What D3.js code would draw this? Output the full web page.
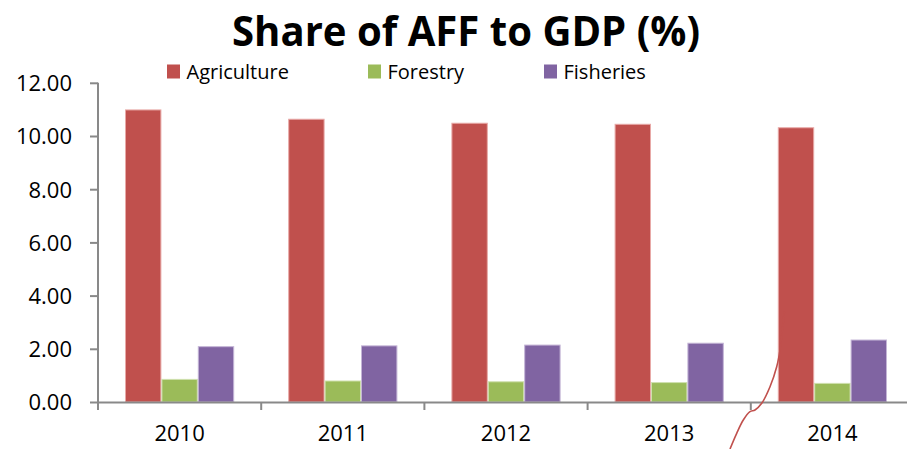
<!DOCTYPE html>
<html>
<head>
<meta charset="utf-8">
<script src="https://cdn.jsdelivr.net/npm/d3@7/dist/d3.min.js"></script>
<style>
  html, body { margin: 0; padding: 0; background: #fff; }
  svg { display: block; }
  text { font-family: "Open Sans", "DejaVu Sans", sans-serif; fill: #000; }
</style>
</head>
<body>
<svg id="chart" width="907" height="449"></svg>
<script>
const years = ["2010", "2011", "2012", "2013", "2014"];
const seriesNames = ["Agriculture", "Forestry", "Fisheries"];
const agriculture = [10.98, 10.63, 10.48, 10.44, 10.31];
const forestry = [0.85, 0.79, 0.76, 0.73, 0.70];
const fisheries = [2.08, 2.11, 2.14, 2.21, 2.33];
const yTicks = [0, 2, 4, 6, 8, 10, 12];
const colors = ["#C0504D", "#9BBB59", "#8064A2"];
const strokes = ["#E8A9A7", "#CFE0AE", "#C4B5D6"];
const titleText = "Share of AFF to GDP (%)";

const values = [agriculture, forestry, fisheries];
const svg = d3.select("#chart");

const x0 = d3.scaleBand().domain(years).range([98, 914]).paddingInner(0).paddingOuter(0);
const x1 = d3.scaleBand().domain(seriesNames).range([27, x0.bandwidth() - 27]).padding(0);
const y = d3.scaleLinear().domain([0, 12]).range([402, 82.8]);

// Bars
years.forEach((yr, i) => {
  const g = svg.append("g").attr("transform", `translate(${x0(yr)},0)`);
  seriesNames.forEach((s, j) => {
    const v = values[j][i];
    g.append("rect")
      .attr("x", x1(s) + 0.5)
      .attr("y", y(v))
      .attr("width", x1.bandwidth() - 1)
      .attr("height", y(0) - y(v))
      .attr("fill", colors[j])
      .attr("stroke", strokes[j])
      .attr("stroke-width", 1);
  });
});

// Y axis
const yAxis = d3.axisLeft(y).tickValues(yTicks).tickFormat(d3.format(".2f")).tickSize(8).tickPadding(18);
const gy = svg.append("g").attr("transform", "translate(98,0)").call(yAxis);
gy.select(".domain").attr("stroke", "#898989").attr("stroke-width", 2).attr("d", `M0,${y(12)}V${y(0)}`);
gy.selectAll(".tick line").attr("stroke", "#898989").attr("stroke-width", 2);
gy.selectAll(".tick text").attr("font-size", 22).attr("font-family", "'Open Sans', sans-serif").attr("fill", "#000").attr("dy", "0.36em");

// X axis
const xAxis = d3.axisBottom(x0).tickSize(0).tickPadding(23);
const gx = svg.append("g").attr("transform", `translate(0,${y(0)})`).call(xAxis);
gx.select(".domain").attr("stroke", "#898989").attr("stroke-width", 2);
gx.selectAll(".tick text").attr("font-size", 22).attr("font-family", "'Open Sans', sans-serif").attr("fill", "#000").attr("dy", "0.71em");
// category boundary ticks
const boundaries = years.map(d => x0(d)).concat([x0(years[years.length - 1]) + x0.bandwidth()]);
gx.selectAll(".bnd").data(boundaries).enter().append("line")
  .attr("class", "bnd")
  .attr("x1", d => d).attr("x2", d => d)
  .attr("y1", 0).attr("y2", 8)
  .attr("stroke", "#898989").attr("stroke-width", 2);

// Title
svg.append("text")
  .attr("x", 466).attr("y", 46)
  .attr("text-anchor", "middle")
  .attr("font-size", 42).attr("font-weight", "bold")
  .attr("textLength", 468).attr("lengthAdjust", "spacingAndGlyphs")
  .text(titleText);

// Legend
const legendX = [167, 368, 544];
seriesNames.forEach((s, j) => {
  svg.append("rect").attr("x", legendX[j]).attr("y", 64.5).attr("width", 13).attr("height", 14).attr("fill", colors[j]);
  svg.append("text").attr("x", legendX[j] + 19.5).attr("y", 79).attr("font-size", 20).text(s);
});

// Hand-drawn annotation stroke near 2014
const annot = [[784.3, 311.7], [780, 350], [776.7, 366.7], [770, 386.7], [761.7, 403.3], [755, 410], [750, 411.7], [743.3, 420], [736.7, 433.3], [730, 449]];
svg.append("path")
  .attr("d", d3.line().curve(d3.curveCatmullRom)(annot))
  .attr("fill", "none").attr("stroke", "#C0504D").attr("stroke-width", 1.6);
</script>
</body>
</html>
